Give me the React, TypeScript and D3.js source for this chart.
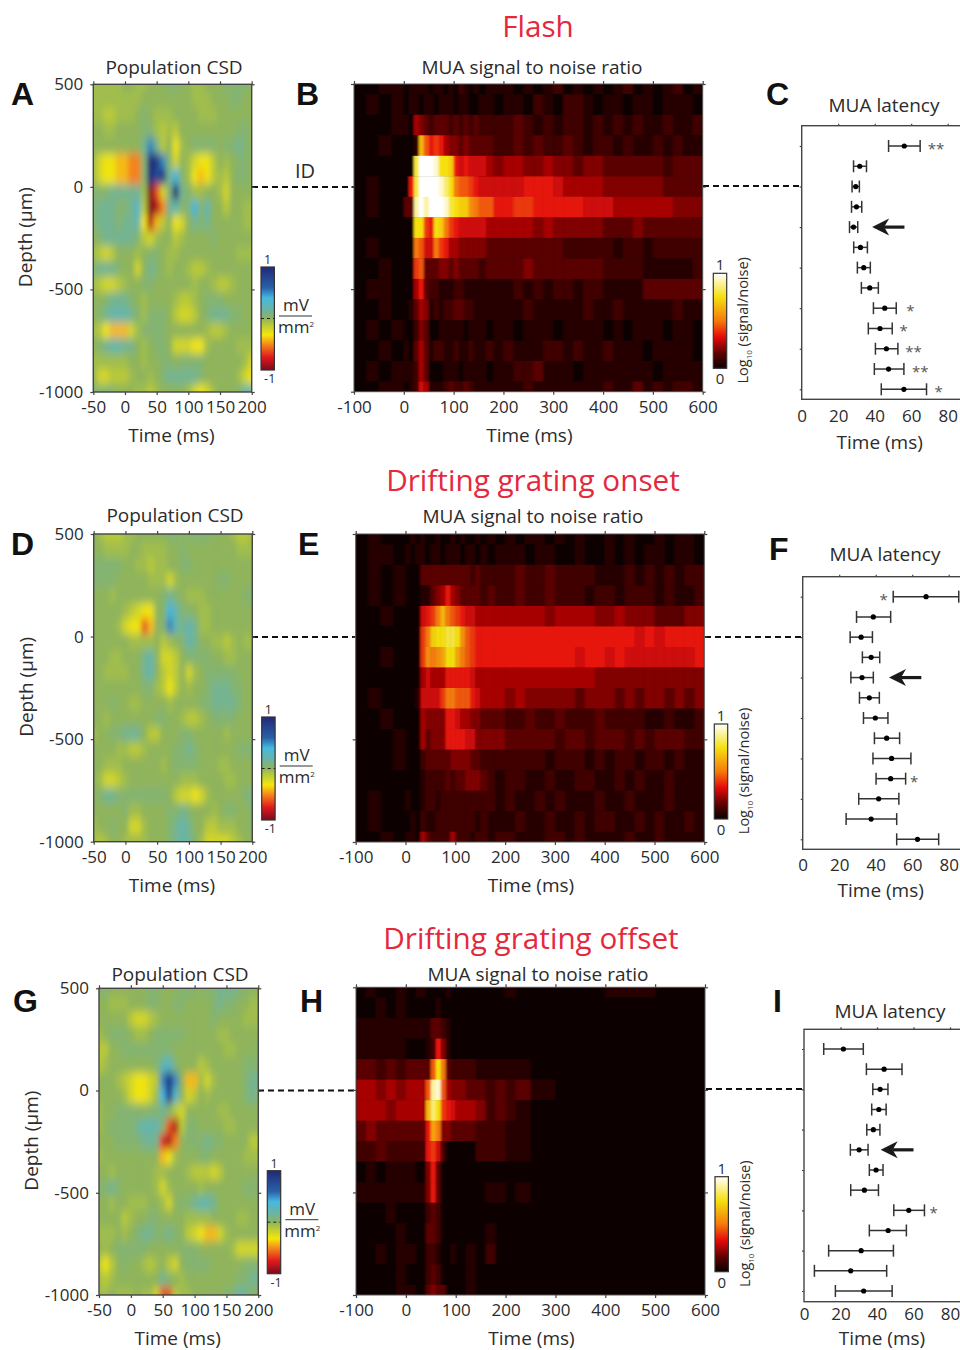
import React, { useEffect, useRef } from 'react';
import * as d3 from 'd3';

const FONT = '"Open Sans", sans-serif';
const INK = '#2b2b2b';

// CSD grids: one row per depth, one value per time bin, tenths of a root scale (see csdFill)
const csdTimes = [-50, -40, -30, -20, -10, 0, 10, 20, 30, 40, 50, 60, 70, 80, 90, 100, 110, 120, 130, 140, 150, 160, 170, 180, 190, 200];
const csdDepths = [500, 425, 350, 275, 200, 125, 50, -25, -100, -175, -250, -325, -400, -475, -550, -625, -700, -775, -850, -925, -1000];

const csdFlash = [
  [-1, -1, -1, -1, -1, 0, 0, -1, -1, 0, 0, 0, 1, 1, 0, 0, -1, -1, 0, 0, 0, 1, 1, 1, 1, 0],
  [-1, -1, -1, -1, -1, -1, -1, -1, 0, 0, 0, 0, 0, 0, 0, 0, -1, -1, -1, 0, 0, 0, 1, 1, 0, 0],
  [-1, -1, -2, -2, -1, -1, -1, 0, 1, 0, -1, -1, -1, 0, 0, 0, 0, -1, -1, -1, 0, 0, 0, 0, 0, 0],
  [0, 0, -1, -1, 0, 0, 0, 0, 1, 1, -1, -2, -1, -2, 0, 0, 0, 0, 0, 0, 0, 0, 0, 1, 1, 0],
  [0, 0, 0, 0, 0, 0, 0, 0, 2, 6, 2, -2, 0, -4, -1, 0, 1, 1, 1, 1, 0, 1, 1, 2, 1, 0],
  [-1, -3, -4, -4, -5, -5, -6, -6, 1, 10, 9, 6, 1, -3, 0, -1, -3, -4, -4, -2, 0, -1, 0, 1, 1, 0],
  [-1, -3, -4, -4, -5, -5, -6, -6, 1, 10, 8, 9, 2, 5, 1, -1, -4, -5, -4, -2, -1, -2, 0, 1, 1, 0],
  [1, 1, 1, 2, 2, 2, 2, 2, -1, -10, -7, -3, 1, 10, 2, 1, -1, -1, 0, 0, -1, -3, 0, 0, 0, 0],
  [1, 2, 2, 2, 1, 1, 2, 4, -2, -10, -9, -6, 2, 3, 1, 1, 5, 1, 3, 0, 0, -2, 0, 0, -1, -1],
  [1, 2, 2, 2, 1, 2, 2, 3, -4, -9, -5, -2, 0, -4, -3, 0, 2, 1, 2, 0, 0, 0, 0, 0, -1, -1],
  [0, 1, 2, 2, 2, 2, 2, 1, -2, -3, -1, 0, 0, -2, -1, 0, 0, 0, 0, 1, 0, 0, 0, 0, 0, 0],
  [-1, -2, -3, -2, 0, 0, 0, -1, 0, 1, 1, 0, -1, -1, 0, 0, 0, 0, 0, 0, 0, 0, 0, -1, -1, -1],
  [1, 2, 2, 2, 1, 0, 0, -3, 0, 2, 1, 0, -1, 0, 0, -1, -2, -2, -1, 0, 0, 0, 0, 0, 0, 0],
  [-1, -2, -3, -3, -2, -1, 0, 0, 1, 1, 0, 0, 0, 0, 0, 0, -1, 0, 0, -1, -2, -2, -1, 0, 0, 0],
  [0, 0, 1, 2, 2, 2, 1, 0, -1, 0, 0, 0, 0, -1, -2, -2, -1, 0, 1, 1, 1, 0, 0, 0, 0, 0],
  [0, 1, 2, 3, 3, 3, 2, 1, -1, 1, 1, 1, 0, -2, -3, -3, -2, 0, 1, 2, 2, 2, 1, 1, 0, 0],
  [-1, -2, -4, -5, -5, -5, -3, -1, 1, 1, 1, 1, 0, 0, 0, 0, 0, 0, -1, -2, -2, -1, 0, 0, 0, 0],
  [0, 1, 2, 3, 3, 2, 2, 0, -1, 0, 1, 1, 0, -3, -3, -3, -4, -4, -1, 0, 0, 0, 0, -1, -1, -1],
  [-1, -1, -1, -1, -1, -1, 0, 0, -1, 0, 0, 1, 1, 0, 1, 1, 1, 1, 0, 0, 0, 0, 0, 0, -1, -3],
  [0, -3, -3, -2, -2, -2, -1, 0, 0, -1, 0, 1, 2, 2, 2, 2, 2, 1, 0, 0, 0, 0, 0, -1, -3, -4],
  [1, 1, 1, 1, 0, 0, 0, -1, -1, -2, -1, 0, 0, 0, 0, -1, -3, -4, -3, -1, 0, 0, 0, 1, 3, 3],
];

const csdOnset = [
  [0, -1, -2, -2, -2, -1, -1, 0, 0, 0, 0, 0, 1, 1, 0, 1, 1, 1, 1, 0, 0, 0, -1, -2, -2, -1],
  [0, 0, -1, -1, -1, -1, 0, 0, -1, -1, -1, -1, 0, 0, 1, 0, 0, 0, 0, 0, 0, 0, 0, -1, -1, -1],
  [1, 1, 1, 1, 1, 0, 0, -1, -1, -2, -1, -1, 0, 0, 1, 1, 0, 0, 0, 0, 0, 0, 0, 0, 0, 0],
  [1, 1, 1, 1, 0, 0, 0, 0, 0, -1, -1, -1, -3, -1, 0, 0, 0, 0, 0, 0, 1, 1, 0, 0, 0, 0],
  [0, 0, 0, -1, 0, 0, 0, 0, 0, 0, 0, 1, 2, 1, 0, -1, -1, -1, 0, 0, 0, 0, 0, 0, 1, 1],
  [0, 0, 0, 0, 0, -1, -2, -3, -4, -4, 0, 1, 5, 3, 1, 1, 0, -1, -1, 0, 0, 0, 0, 0, 0, 0],
  [0, 0, 0, 0, -1, -3, -4, -4, -7, -5, 0, 1, 6, 3, 2, 3, 2, -1, -1, 0, 0, 0, 0, 0, 0, 0],
  [0, 0, 0, 0, 0, 0, -1, -1, -1, -1, 0, -2, -1, 0, 1, 3, 2, 0, 0, -1, -1, -2, -1, 0, -1, -1],
  [0, 0, 0, -1, -1, 0, 0, 0, 2, 3, 0, -3, -3, -2, 0, 1, 1, 1, 1, 0, 0, -1, -1, 0, 0, 0],
  [0, 0, -1, -1, -1, -1, 0, 0, 2, 3, 0, -2, -3, -2, 0, -3, -1, 0, 1, 1, 1, 1, 1, 0, 0, 0],
  [0, 0, 0, 0, 0, 0, 0, 0, 1, 1, -1, -2, -4, -2, 0, -1, 0, 0, 1, 2, 2, 2, 1, 1, 0, 0],
  [0, 0, 0, 1, 0, 0, -1, -1, 0, 0, 0, 0, -1, 0, 0, 0, 0, 1, 1, 2, 2, 2, 2, 1, 0, 0],
  [0, 0, -1, 0, 0, 0, 0, 0, 0, 0, 1, 1, 0, 0, -1, -2, -2, -1, 0, 1, 1, 1, 1, 0, 0, 0],
  [-1, 0, 0, 1, 1, 2, 2, 2, 0, -2, -2, 0, 0, 0, 1, 1, 0, 0, 0, 0, 0, -1, 0, 0, 0, 0],
  [0, 0, 0, 0, -1, -1, -2, -2, -1, 0, 0, 0, 0, 1, 1, 2, 1, 0, 0, 0, 0, 0, 0, 1, 1, 1],
  [0, 0, -1, -1, -1, 0, 0, 0, 0, 0, 0, -1, 0, 1, 1, 1, 1, 0, 0, 0, -1, -1, 0, 0, 0, 0],
  [0, -1, -3, -3, -2, -1, 0, 0, 0, 0, 0, 0, 0, 0, -1, -1, -1, 0, 0, 0, 0, -1, -1, 0, 0, 0],
  [0, 1, 2, 2, 1, 1, 1, 1, 1, 1, 1, 1, 0, -2, -3, -3, -4, -3, -1, 0, 0, 0, 0, 0, 1, 2],
  [0, 0, 0, 0, 0, 1, -1, -1, 0, 0, 0, 0, 1, 1, 2, 1, 0, 0, 0, -1, 0, 1, 1, 0, 0, 1],
  [-1, 0, 0, 1, 0, 0, -3, -3, -1, 0, 0, 0, 1, 2, 3, 2, 0, 0, -2, -2, -1, -1, -1, 0, 0, 1],
  [-1, -2, -1, 0, 0, -1, -1, -1, -1, 0, 0, 0, 1, 2, 3, 2, 1, -1, -3, -3, -3, -3, -2, -1, 0, 0],
];

const csdOffset = [
  [1, 1, 0, 0, 0, 0, 0, 0, 1, 1, 0, 0, 0, 1, 1, 1, 0, 1, 1, 2, 2, 2, 1, 1, 0, 0],
  [0, 0, -1, -1, -1, 0, 0, 0, 1, 1, 0, 0, 1, 1, 0, 0, 0, 0, 1, 2, 1, 1, 0, 0, -1, -1],
  [0, 0, 0, 0, 0, -2, -3, -3, -2, -1, 0, 0, 0, 0, 0, 0, 0, 0, 1, 0, 0, 0, 0, -1, -1, -1],
  [-1, 0, 1, 1, 1, 0, -1, -1, 0, 1, 1, 1, 1, 1, 0, 0, 0, 0, 0, -1, -1, 0, 0, 0, 0, 0],
  [-2, -2, 0, 0, 1, 1, 1, 1, 1, 1, 1, 1, 0, 0, 0, 0, 0, 0, 0, 0, -1, -1, 0, 0, 0, 1],
  [-2, -1, 0, 0, 0, 0, 0, 0, 0, 1, 3, 4, 1, 0, 0, 0, -2, -1, 0, 0, 0, 0, 0, 1, 1, 1],
  [0, 0, 0, -1, -2, -3, -4, -4, -3, -2, 6, 10, 6, 0, -5, -5, -1, -3, -1, 0, 0, 0, 0, 1, 2, 2],
  [0, 0, 0, 0, -1, -3, -4, -4, -3, -1, 5, 9, 4, 0, -3, -2, 0, -1, 0, 0, 0, 0, 0, 1, 2, 1],
  [-1, 0, 0, 1, 1, 1, 1, 0, 1, 1, 2, 1, -2, -3, 0, 0, 0, 0, 0, -1, -1, 0, 0, 0, 0, 0],
  [-1, 0, 1, 1, 1, 1, 2, 3, 3, 3, 1, -7, -9, -2, 1, 1, 0, 0, 0, 0, -1, -1, 0, 0, 0, 0],
  [0, 0, 0, 1, 1, 1, 1, 2, 2, 2, -8, -9, -6, 0, 1, 1, 1, 2, 1, 1, 0, 0, 0, 0, -2, -2],
  [-1, 0, 0, 0, 0, 0, 0, 0, 0, 0, -5, -4, -1, 0, 0, 0, 1, 1, 0, 0, 0, 0, 0, -1, -1, -1],
  [0, 0, -1, 0, 0, 0, 0, 0, 0, -1, -1, 0, 0, 0, -1, -2, -2, -2, -3, -2, 0, 0, 0, 0, 0, 0],
  [1, 1, 2, 1, 0, 0, 0, 0, 0, -1, -3, -1, 0, 0, 0, 0, -1, 0, 0, 0, 0, 0, 0, 1, 1, 1],
  [0, 0, -1, 0, 0, -1, -1, -1, 0, 0, -1, -3, 0, 1, 1, 2, 3, 3, 2, 0, 0, 0, 0, 0, 0, 0],
  [0, 0, 0, 0, -2, -1, 0, 0, 1, 1, 0, 0, 0, 0, -1, -1, -1, -1, 0, 0, 0, 0, -1, -1, 0, 0],
  [-1, -1, -1, 0, -1, 0, 1, 2, 2, 1, 1, 2, 1, 0, -2, -3, -4, -5, -5, -3, -1, 0, 0, 0, 0, 0],
  [0, -1, 0, 1, 1, 1, 1, 1, 0, 0, 0, 0, 0, 1, 1, 1, 0, 0, 0, 0, 0, -1, -3, -3, -3, -3],
  [-2, -4, -2, 0, 1, 0, 0, -1, -2, -1, 0, -2, -3, 0, 1, 1, 1, 1, 0, 0, 0, 0, 0, 1, 1, 1],
  [-1, -2, -1, 0, 0, 0, 0, 0, 0, 0, 2, 1, 0, -1, 0, 0, 0, 0, 0, 0, 0, 0, 1, 1, 2, 2],
  [-1, -1, 0, -1, -1, -1, 0, -1, -1, -3, -7, -7, -2, -1, -1, 0, 0, 0, 0, 0, 1, 1, 3, 2, 1, 0],
];

// MUA grids: one row per 100 um, in twentieths of the log10 signal/noise range
const muaDepths = [500, 400, 300, 200, 100, 0, -100, -200, -300, -400, -500, -600, -700, -800, -900, -1000];
const muaEdges = [-100, -75, -50, -25, 0, 10, 20, 30, 40, 50, 60, 70, 80, 90, 100, 110, 120, 130, 140, 150, 165, 180, 200, 220, 240, 260, 280, 300, 320, 340, 360, 380, 400, 420, 440, 460, 480, 500, 520, 540, 560, 580, 600];
const muaOffsetEdges = [-100, -80, -60, -40, -20, 0, 20, 40, 50, 60, 70, 80, 90, 100, 120, 140, 160, 180, 200, 220, 250, 300, 350, 400, 450, 500, 550, 600];

const muaFlash = [
  [0, 0, 1, 1, 0, 1, 1, 1, 1, 0, 1, 1, 0, 1, 0, 2, 1, 0, 1, 0, 1, 1, 1, 0, 1, 0, 1, 2, 0, 1, 0, 1, 0, 1, 2, 0, 1, 0, 1, 2, 0, 1],
  [0, 1, 0, 1, 0, 1, 1, 0, 1, 1, 0, 1, 1, 1, 0, 1, 1, 0, 0, 1, 1, 0, 1, 1, 0, 2, 1, 0, 2, 2, 1, 0, 1, 1, 0, 1, 1, 0, 1, 1, 1, 0],
  [0, 0, 0, 1, 1, 0, 5, 4, 3, 2, 3, 3, 3, 2, 3, 2, 3, 2, 3, 2, 2, 2, 2, 3, 2, 1, 2, 1, 2, 2, 1, 2, 1, 2, 1, 2, 1, 1, 2, 1, 1, 2],
  [0, 0, 1, 0, 0, 0, 1, 13, 9, 7, 8, 7, 5, 4, 4, 3, 4, 3, 3, 3, 3, 2, 2, 3, 2, 3, 2, 2, 3, 2, 1, 2, 2, 1, 2, 1, 1, 2, 1, 2, 1, 1],
  [0, 0, 0, 0, 0, 0, 16, 20, 20, 20, 19, 15, 15, 14, 7, 6, 7, 6, 6, 6, 5, 4, 5, 5, 4, 4, 5, 4, 4, 3, 4, 4, 3, 3, 3, 3, 3, 3, 2, 3, 3, 3],
  [0, 1, 0, 0, 0, 7, 16, 20, 20, 20, 20, 19, 17, 15, 10, 9, 9, 8, 7, 6, 6, 6, 6, 6, 7, 7, 7, 6, 5, 5, 5, 5, 4, 4, 4, 4, 4, 4, 3, 3, 3, 3],
  [0, 1, 0, 0, 3, 3, 18, 20, 18, 20, 20, 20, 19, 16, 15, 14, 14, 11, 10, 9, 9, 7, 7, 8, 8, 7, 7, 7, 7, 7, 6, 6, 6, 5, 5, 5, 5, 5, 5, 4, 4, 4],
  [0, 0, 0, 0, 0, 0, 15, 15, 8, 7, 15, 14, 10, 8, 7, 6, 6, 6, 6, 6, 5, 5, 5, 5, 5, 4, 5, 4, 4, 4, 4, 4, 3, 3, 3, 4, 3, 3, 3, 3, 3, 3],
  [0, 1, 0, 0, 0, 0, 10, 9, 6, 6, 10, 8, 7, 5, 5, 4, 4, 4, 4, 4, 3, 3, 3, 3, 3, 3, 3, 3, 2, 2, 2, 2, 2, 1, 2, 2, 1, 2, 2, 2, 2, 2],
  [0, 0, 1, 0, 0, 0, 8, 9, 3, 3, 3, 4, 4, 3, 4, 3, 3, 3, 3, 2, 3, 3, 3, 3, 4, 3, 3, 3, 3, 3, 3, 3, 2, 2, 2, 2, 1, 1, 1, 1, 1, 2],
  [0, 1, 1, 0, 0, 0, 5, 7, 3, 2, 2, 1, 1, 1, 2, 2, 1, 1, 1, 1, 1, 1, 1, 2, 1, 2, 1, 2, 2, 1, 2, 2, 1, 1, 1, 1, 3, 3, 3, 3, 3, 3],
  [0, 0, 1, 0, 0, 1, 3, 5, 4, 1, 2, 1, 2, 2, 3, 3, 2, 2, 1, 1, 1, 1, 1, 1, 2, 1, 1, 1, 1, 1, 2, 1, 1, 2, 1, 1, 1, 1, 1, 2, 1, 1],
  [0, 1, 0, 1, 0, 0, 2, 4, 3, 0, 0, 1, 1, 1, 1, 1, 0, 1, 1, 1, 0, 1, 1, 0, 1, 1, 1, 0, 1, 1, 1, 1, 0, 1, 0, 1, 1, 1, 0, 1, 1, 0],
  [0, 0, 1, 0, 1, 0, 3, 5, 3, 1, 2, 2, 1, 1, 2, 1, 1, 2, 1, 1, 2, 1, 2, 1, 1, 1, 2, 2, 1, 2, 1, 1, 2, 1, 1, 1, 0, 1, 1, 1, 1, 0],
  [0, 1, 0, 1, 1, 1, 2, 5, 3, 0, 0, 0, 1, 1, 1, 0, 1, 1, 1, 1, 0, 1, 1, 2, 2, 3, 1, 1, 1, 0, 1, 1, 1, 1, 1, 1, 1, 0, 1, 1, 1, 1],
  [0, 0, 1, 1, 0, 1, 2, 6, 5, 1, 1, 1, 2, 3, 2, 2, 3, 2, 1, 1, 1, 1, 1, 1, 2, 1, 1, 1, 1, 1, 1, 1, 2, 1, 1, 3, 1, 2, 1, 2, 2, 1],
];

const muaOnset = [
  [0, 1, 0, 0, 0, 1, 0, 1, 0, 0, 1, 0, 0, 1, 0, 1, 0, 0, 1, 0, 1, 0, 1, 0, 1, 1, 0, 1, 0, 1, 0, 0, 1, 0, 1, 0, 0, 1, 0, 1, 1, 0],
  [0, 1, 1, 0, 1, 0, 1, 1, 0, 1, 1, 0, 1, 1, 1, 0, 1, 1, 0, 1, 0, 1, 1, 1, 0, 1, 1, 0, 0, 1, 0, 0, 1, 0, 1, 0, 1, 1, 0, 1, 1, 0],
  [0, 1, 0, 1, 0, 0, 0, 3, 3, 3, 3, 3, 3, 3, 3, 3, 3, 2, 3, 2, 2, 2, 2, 3, 2, 2, 3, 2, 2, 2, 2, 1, 1, 1, 2, 1, 2, 1, 2, 1, 2, 2],
  [0, 1, 0, 1, 0, 0, 0, 1, 1, 3, 4, 5, 7, 5, 4, 3, 3, 3, 3, 2, 3, 2, 2, 3, 2, 2, 3, 2, 2, 2, 1, 2, 2, 1, 2, 2, 2, 1, 2, 1, 1, 2],
  [0, 0, 1, 0, 0, 0, 0, 6, 7, 8, 10, 13, 10, 9, 8, 7, 6, 6, 5, 5, 5, 5, 5, 5, 5, 5, 4, 5, 5, 5, 5, 4, 4, 5, 4, 4, 4, 3, 3, 3, 4, 4],
  [0, 0, 0, 0, 0, 0, 0, 8, 10, 14, 15, 15, 16, 16, 15, 11, 9, 8, 7, 7, 7, 7, 7, 7, 7, 7, 7, 7, 7, 7, 7, 7, 7, 7, 7, 6, 7, 6, 7, 7, 7, 7],
  [0, 0, 1, 0, 0, 0, 0, 8, 11, 10, 11, 12, 15, 15, 12, 10, 9, 8, 7, 7, 7, 7, 7, 7, 7, 7, 7, 7, 7, 6, 7, 7, 6, 7, 6, 6, 6, 6, 6, 6, 6, 7],
  [0, 0, 0, 0, 0, 0, 0, 5, 6, 5, 5, 5, 7, 7, 7, 7, 7, 6, 5, 5, 5, 5, 5, 5, 5, 5, 5, 5, 5, 5, 5, 4, 4, 4, 4, 4, 4, 4, 4, 4, 4, 4],
  [0, 1, 0, 0, 0, 0, 1, 6, 6, 6, 6, 8, 10, 10, 9, 9, 9, 7, 6, 5, 5, 5, 4, 5, 4, 4, 4, 4, 4, 3, 4, 4, 4, 3, 4, 3, 4, 4, 3, 4, 3, 4],
  [0, 0, 1, 0, 0, 0, 0, 5, 4, 4, 4, 4, 7, 7, 6, 5, 5, 4, 4, 3, 3, 3, 2, 2, 3, 2, 2, 3, 2, 2, 2, 3, 2, 2, 2, 2, 1, 1, 2, 1, 1, 2],
  [0, 0, 0, 1, 0, 0, 0, 5, 3, 4, 4, 4, 7, 7, 7, 7, 6, 6, 4, 4, 4, 4, 3, 3, 3, 3, 3, 2, 3, 3, 2, 3, 3, 3, 2, 3, 2, 3, 3, 3, 2, 2],
  [0, 0, 0, 1, 0, 0, 0, 2, 3, 3, 3, 3, 3, 4, 4, 4, 4, 3, 3, 2, 2, 2, 2, 2, 2, 2, 1, 2, 2, 2, 1, 2, 1, 2, 2, 1, 2, 2, 1, 2, 1, 1],
  [0, 0, 0, 0, 0, 0, 0, 1, 2, 2, 2, 2, 3, 2, 3, 3, 4, 4, 4, 3, 2, 1, 2, 2, 1, 1, 2, 1, 1, 2, 2, 1, 1, 2, 1, 2, 1, 1, 2, 1, 1, 1],
  [0, 1, 0, 0, 1, 0, 0, 1, 2, 2, 1, 2, 2, 2, 2, 2, 2, 2, 2, 2, 2, 1, 2, 1, 1, 2, 1, 2, 1, 1, 1, 2, 1, 1, 2, 1, 1, 1, 2, 1, 1, 1],
  [0, 1, 0, 0, 0, 1, 0, 2, 1, 1, 2, 2, 2, 2, 2, 2, 2, 2, 1, 2, 1, 1, 1, 2, 1, 1, 2, 1, 1, 2, 1, 2, 2, 1, 1, 2, 1, 2, 1, 1, 2, 1],
  [0, 0, 1, 0, 1, 1, 0, 5, 3, 2, 2, 2, 2, 5, 2, 2, 2, 1, 2, 2, 1, 2, 2, 1, 1, 1, 2, 2, 1, 2, 1, 1, 1, 1, 2, 1, 1, 2, 1, 1, 1, 1],
];

const muaOffset = [
  [0, 1, 0, 0, 1, 0, 1, 0, 0, 0, 0, 1, 0, 0, 0, 0, 0, 0, 1, 0, 0, 0, 0, 1, 1, 0, 0],
  [0, 0, 1, 0, 1, 0, 0, 0, 0, 1, 0, 0, 0, 0, 0, 0, 0, 0, 0, 0, 0, 0, 0, 0, 0, 0, 0],
  [1, 1, 1, 1, 1, 1, 1, 1, 3, 3, 2, 1, 0, 0, 0, 0, 0, 0, 0, 0, 0, 0, 0, 0, 0, 0, 0],
  [1, 1, 1, 1, 1, 0, 0, 1, 2, 7, 4, 1, 0, 0, 0, 0, 0, 0, 0, 0, 0, 0, 0, 0, 0, 0, 0],
  [3, 3, 2, 3, 2, 3, 3, 3, 9, 15, 10, 3, 2, 2, 2, 1, 1, 1, 1, 1, 0, 0, 0, 0, 0, 0, 0],
  [5, 5, 4, 5, 4, 5, 5, 9, 18, 19, 9, 5, 4, 4, 3, 3, 2, 3, 2, 3, 1, 0, 0, 0, 0, 0, 0],
  [5, 5, 5, 4, 5, 5, 5, 13, 17, 15, 8, 7, 6, 5, 5, 4, 2, 3, 2, 1, 0, 0, 0, 0, 0, 0, 0],
  [3, 4, 3, 3, 3, 3, 3, 7, 12, 10, 4, 4, 3, 3, 3, 2, 2, 2, 1, 1, 0, 0, 0, 0, 0, 0, 0],
  [2, 2, 3, 2, 2, 2, 2, 7, 8, 6, 2, 0, 0, 0, 0, 2, 2, 2, 1, 1, 0, 0, 0, 0, 0, 0, 0],
  [0, 1, 0, 1, 1, 1, 0, 4, 7, 3, 0, 0, 0, 0, 0, 0, 0, 0, 0, 0, 0, 0, 0, 0, 0, 0, 0],
  [1, 1, 1, 1, 1, 1, 1, 4, 7, 3, 0, 0, 0, 0, 0, 0, 1, 1, 0, 1, 0, 0, 0, 0, 0, 0, 0],
  [0, 0, 0, 1, 0, 0, 0, 2, 3, 2, 0, 0, 0, 0, 0, 0, 0, 0, 0, 0, 0, 0, 0, 0, 0, 0, 0],
  [0, 0, 0, 0, 1, 0, 0, 3, 3, 2, 0, 0, 0, 0, 0, 0, 1, 0, 0, 0, 0, 0, 0, 0, 0, 0, 0],
  [0, 0, 1, 0, 1, 1, 0, 2, 2, 1, 0, 0, 1, 0, 1, 0, 2, 0, 0, 0, 0, 0, 0, 0, 0, 0, 0],
  [0, 0, 0, 0, 1, 0, 0, 2, 3, 2, 0, 0, 0, 0, 1, 0, 0, 0, 0, 0, 0, 0, 0, 0, 0, 0, 0],
  [0, 0, 0, 0, 1, 1, 0, 3, 4, 3, 3, 0, 0, 0, 1, 0, 0, 0, 0, 0, 0, 0, 0, 0, 0, 0, 0],
];

// MUA latency per row, ms: [low, mean, high]
const latencyFlash = [[47.6, 56.2, 64.9], [28.4, 31.8, 35.5], [27.6, 29.6, 31.6], [27.3, 30, 32.9], [26.2, 28.4, 30.7], [28.5, 32.2, 36], [30.5, 34, 37.6], [32.7, 37.3, 42], [39.3, 45.5, 51.8], [36.5, 42.9, 49.6], [40.4, 46.4, 52.7], [39.8, 47.6, 56], [43.6, 56, 68.4]];
const latencyOnset = [[49.6, 67.6, 85.5], [29.5, 38.7, 48.2], [26, 32, 38.2], [32.7, 37.5, 42.2], [26.4, 32.5, 38.7], [31.1, 36.5, 42], [33.3, 39.8, 46.7], [39.3, 46, 53.1], [38.5, 48.7, 59.3], [40.2, 48.2, 56.4], [30.7, 41.6, 52.7], [23.8, 37.5, 51.5], [51.5, 62.9, 74.5]];
const latencyOffset = [[10.8, 21.6, 32.5], [34.2, 43.9, 53.7], [37.7, 41.7, 46], [37.1, 41, 45], [34.4, 38, 41.6], [25.4, 30.2, 35.1], [35.8, 39.5, 43.3], [25.6, 33.1, 40.8], [49.2, 57.4, 66], [35.8, 46.1, 56.1], [13.5, 31.3, 49], [5.7, 25.6, 45.3], [17.2, 32.7, 48.3]];

// [row, ms, label]
const starsFlash = [[1, 73.6, '**'], [9, 59.5, '*'], [10, 55.8, '*'], [11, 61.3, '**'], [12, 65, '**'], [13, 75, '*']];
const starsOnset = [[1, 44.4, '*'], [10, 61.1, '*']];
const starsOffset = [[9, 71, '*']];

const csdTicksX = [-50, 0, 50, 100, 150, 200];
const depthTicks = [500, 0, -500, -1000];
const muaTicksX = [-100, 0, 100, 200, 300, 400, 500, 600];
const latencyTicksX = [0, 20, 40, 60, 80];
const latencyTicksY = [1, 3, 5, 7, 9, 11, 13];

const csdStops = [-1, -0.75, -0.5, -0.32, -0.12, 0, 0.15, 0.4, 0.6, 1];
const csdColors = ['#7a0a1e', '#e01a1c', '#f58a1a', '#f5e60c', '#b8c93a', '#8fb45c', '#6fb49c', '#46b8e0', '#2a5fa8', '#1f2a78'];
const muaStops = [0, 0.15, 0.33, 0.5, 0.75, 1];
const muaColors = ['#0a0000', '#5a0000', '#e50a0a', '#f57a0a', '#f5e010', '#ffffff'];

const csdColor = d3.scaleLinear<string>().domain(csdStops).range(csdColors).clamp(true);
const muaColor = d3.scaleLinear<string>().domain(muaStops).range(muaColors).clamp(true);
const csdFill = (v: number) => csdColor(Math.sign(v) * Math.pow(Math.abs(v) / 10, 1.3));

const Axis = ({ axis, x = 0, y = 0, size = 17 }: any) => {
  const ref = useRef<SVGGElement>(null);
  useEffect(() => {
    const g = d3.select(ref.current);
    g.call(axis);
    g.select('.domain').remove();
    g.attr('font-family', FONT).attr('font-size', size);
    g.selectAll('line').attr('stroke', '#444').attr('stroke-width', 1.2);
    g.selectAll('text').attr('fill', INK);
  }, []);
  return <g ref={ref} transform={`translate(${x},${y})`} />;
};

const Label = ({ x, y, size = 19, rotate = false, anchor = 'middle', weight = 400, fill = INK, family = FONT, children }: any) => (
  <text x={x} y={y} fontSize={size} textAnchor={anchor} fontWeight={weight} fill={fill} fontFamily={family}
    transform={rotate ? `rotate(-90 ${x} ${y})` : undefined}>{children}</text>
);

const PanelLetter = ({ x, y, children }: any) => (
  <Label x={x} y={y} size={32} anchor="start" weight={700} fill="#111" family='"Liberation Sans", sans-serif'>{children}</Label>
);

const Colorbar = ({ id, x, y, w, h, stops, colors, lo, hi, mid }: any) => {
  const t = d3.scaleLinear().domain([stops[0], stops[stops.length - 1]]).range([100, 0]);
  return (
    <g>
      <defs>
        <linearGradient id={id} x1="0" x2="0" y1="0" y2="1">
          {stops.map((s: number, i: number) => <stop key={i} offset={`${t(s)}%`} stopColor={colors[i]} />).reverse()}
        </linearGradient>
      </defs>
      <rect x={x} y={y} width={w} height={h} fill={`url(#${id})`} stroke="#333" strokeWidth={1.2} />
      {mid && <line x1={x} x2={x + w} y1={y + h / 2} y2={y + h / 2} stroke="#222" strokeWidth={1} strokeDasharray="3 3" />}
      <Label x={x + w / 2} y={y - 3} size={mid ? 12.5 : 15}>{hi}</Label>
      <Label x={x + w / 2 + (mid ? 2 : 0)} y={y + h + (mid ? 13 : 16)} size={mid ? 12.5 : 15}>{lo}</Label>
    </g>
  );
};

const CsdPanel = ({ id, x0, x1, y0, y1, grid, titleX, titleY, barX, barY }: any) => {
  const x = d3.scaleLinear().domain([-50, 200]).range([x0, x1]);
  const y = d3.scaleLinear().domain([500, -1000]).range([y0, y1]);
  const last = csdTimes.length - 1;
  const lastRow = csdDepths.length - 1;
  return (
    <g>
      <defs>
        <clipPath id={`clip-${id}`}><rect x={x0} y={y0} width={x1 - x0} height={y1 - y0} /></clipPath>
        <filter id={`blur-${id}`} x="-10%" y="-10%" width="120%" height="120%">
          <feGaussianBlur stdDeviation="2.8 4.6" />
        </filter>
      </defs>
      <g clipPath={`url(#clip-${id})`}>
        <rect x={x0} y={y0} width={x1 - x0} height={y1 - y0} fill="#8fb45c" />
        <g filter={`url(#blur-${id})`}>
          {grid.map((row: number[], r: number) => row.map((v, c) => {
            const left = x(csdTimes[c] - 5) - (c === 0 ? 20 : 0);
            const right = x(csdTimes[c] + 5) + (c === last ? 20 : 0.5);
            const top = y(csdDepths[r] + 37.5) - (r === 0 ? 20 : 0);
            const bottom = y(csdDepths[r] - 37.5) + (r === lastRow ? 20 : 0.5);
            return <rect key={`${r}-${c}`} x={left} y={top} width={right - left} height={bottom - top} fill={csdFill(v)} />;
          }))}
        </g>
      </g>
      <rect x={x0} y={y0} width={x1 - x0} height={y1 - y0} fill="none" stroke="#444" strokeWidth={1.4} />
      <Axis y={y1} axis={d3.axisBottom(x).tickValues(csdTicksX).tickSize(3).tickPadding(6).tickFormat((d: any) => String(d))} />
      <Axis y={y0} axis={d3.axisTop(x).tickValues(csdTicksX).tickSize(3).tickFormat(() => '')} />
      <Axis x={x0} axis={d3.axisLeft(y).tickValues(depthTicks).tickSize(3).tickPadding(7).tickFormat((d: any) => String(d))} />
      <Axis x={x1} axis={d3.axisRight(y).tickValues(depthTicks).tickSize(3).tickFormat(() => '')} />
      <Label x={titleX} y={titleY}>Population CSD</Label>
      <Label x={(x0 + x1) / 2 - 1} y={y1 + 50}>Time (ms)</Label>
      <Label x={x0 - 61} y={(y0 + y1) / 2 - 1} size={19} rotate>Depth (µm)</Label>
      <Colorbar id={`cb-${id}`} x={barX} y={barY} w={13.4} h={103} stops={csdStops} colors={csdColors} lo="-1" hi="1" mid />
      <Label x={barX + 35} y={barY + 44} size={17}>mV</Label>
      <line x1={barX + 18} x2={barX + 51} y1={barY + 49} y2={barY + 49} stroke="#333" strokeWidth={1} />
      <Label x={barX + 35} y={barY + 66} size={17}>mm<tspan fontSize={8} dy={-6}>2</tspan></Label>
    </g>
  );
};

const MuaPanel = ({ id, x0, x1, y0, y1, grid, edges, titleX, titleY, barX, barY }: any) => {
  const x = d3.scaleLinear().domain([-100, 600]).range([x0, x1]);
  const y = d3.scaleLinear().domain([500, -1000]).range([y0, y1]);
  return (
    <g>
      <defs>
        <clipPath id={`clip-${id}`}><rect x={x0} y={y0} width={x1 - x0} height={y1 - y0} /></clipPath>
        <filter id={`soft-${id}`} x="-2%" y="-2%" width="104%" height="104%">
          <feGaussianBlur stdDeviation="0.9 0.5" />
        </filter>
      </defs>
      <g clipPath={`url(#clip-${id})`}>
        <rect x={x0} y={y0} width={x1 - x0} height={y1 - y0} fill="#0a0000" />
        <g filter={`url(#soft-${id})`}>
          {grid.map((row: number[], r: number) => row.map((v, c) => (
            <rect key={`${r}-${c}`} x={x(edges[c])} width={x(edges[c + 1]) - x(edges[c]) + 0.4}
              y={y(muaDepths[r] + 50)} height={y(muaDepths[r] - 50) - y(muaDepths[r] + 50) + 0.4}
              fill={muaColor(v / 20)} />
          )))}
        </g>
      </g>
      <rect x={x0} y={y0} width={x1 - x0} height={y1 - y0} fill="none" stroke="#555" strokeWidth={1} />
      <Axis y={y1} axis={d3.axisBottom(x).tickValues(muaTicksX).tickSize(3).tickPadding(6).tickFormat((d: any) => String(d))} />
      <Axis y={y0} axis={d3.axisTop(x).tickValues(muaTicksX).tickSize(3).tickFormat(() => '')} />
      <Axis x={x0} axis={d3.axisLeft(y).tickValues(depthTicks).tickSize(3).tickFormat(() => '')} />
      <Axis x={x1} axis={d3.axisRight(y).tickValues(depthTicks).tickSize(3).tickFormat(() => '')} />
      <Label x={titleX} y={titleY}>MUA signal to noise ratio</Label>
      <Label x={(x0 + x1) / 2 + 1} y={y1 + 50}>Time (ms)</Label>
      <Colorbar id={`cb-${id}`} x={barX} y={barY} w={13.4} h={95} stops={muaStops} colors={muaColors} lo="0" hi="1" />
      <Label x={barX + 35} y={barY + 47} size={14.5} rotate>Log<tspan fontSize={8} dy={4}>10</tspan><tspan dy={-4}> (signal/noise)</tspan></Label>
    </g>
  );
};

const LatencyPanel = ({ x0, y0, y1, rowFirst, rowLast, rows, stars, arrowRow, arrowTip, arrowTail, titleX, titleY, labelY, tickGap }: any) => {
  const x = d3.scaleLinear().domain([0, 80]).range([x0, x0 + 146]);
  const y = d3.scaleLinear().domain([1, 13]).range([rowFirst, rowLast]);
  const tip = x(arrowTip);
  const tail = x(arrowTail);
  const ay = y(arrowRow);
  return (
    <g>
      <rect x={x0} y={y0} width={x(100) - x0} height={y1 - y0} fill="#fff" stroke="#444" strokeWidth={1.4} />
      <Axis y={y1} axis={d3.axisBottom(x).tickValues(latencyTicksX).tickSize(0).tickPadding(tickGap)} />
      <Axis y={y0} axis={d3.axisTop(x).tickValues(latencyTicksX.slice(1)).tickSize(2).tickFormat(() => '')} />
      <Axis x={x0} axis={d3.axisLeft(y).tickValues(latencyTicksY).tickSize(2).tickFormat(() => '')} />
      {rows.map((d: number[], i: number) => {
        const cy = y(i + 1);
        return (
          <g key={i} stroke="#333" strokeWidth={1.5}>
            <line x1={x(d[0])} x2={x(d[2])} y1={cy} y2={cy} />
            <line x1={x(d[0])} x2={x(d[0])} y1={cy - 6} y2={cy + 6} />
            <line x1={x(d[2])} x2={x(d[2])} y1={cy - 6} y2={cy + 6} />
            <circle cx={x(d[1])} cy={cy} r={2.6} fill="#000" stroke="none" />
          </g>
        );
      })}
      {stars.map((s: any, i: number) => (
        <text key={i} x={x(s[1])} y={y(s[0]) + 8} fontSize={15} textAnchor="middle" fill="#555" fontFamily={FONT}>{s[2]}</text>
      ))}
      <line x1={tip + 12} x2={tail} y1={ay} y2={ay} stroke="#1a1a1a" strokeWidth={3.2} />
      <path d={`M${tip},${ay} L${tip + 17},${ay - 8.5} L${tip + 12},${ay} L${tip + 17},${ay + 8.5} Z`} fill="#1a1a1a" />
      <Label x={titleX} y={titleY}>MUA latency</Label>
      <Label x={x0 + 78} y={labelY}>Time (ms)</Label>
    </g>
  );
};

const Dashed = ({ x1, x2, y }: any) => (
  <line x1={x1} x2={x2} y1={y} y2={y} stroke="#111" strokeWidth={2} strokeDasharray="6 4" />
);

const App = () => {
  return (
    <svg width={960} height={1350} style={{ position: 'absolute', left: 0, top: 0, display: 'block', background: '#fff' }}>
      <Label x={538} y={37} size={29.7} fill="#e5283c">Flash</Label>
      <Label x={533} y={491} size={29.7} fill="#e5283c">Drifting grating onset</Label>
      <Label x={531} y={949} size={29.7} fill="#e5283c">Drifting grating offset</Label>

      <PanelLetter x={11} y={105}>A</PanelLetter>
      <PanelLetter x={296} y={105}>B</PanelLetter>
      <PanelLetter x={766} y={105}>C</PanelLetter>
      <PanelLetter x={11} y={555}>D</PanelLetter>
      <PanelLetter x={298} y={555}>E</PanelLetter>
      <PanelLetter x={769} y={560}>F</PanelLetter>
      <PanelLetter x={13} y={1012}>G</PanelLetter>
      <PanelLetter x={300} y={1012}>H</PanelLetter>
      <PanelLetter x={773} y={1012}>I</PanelLetter>

      <Dashed x1={252} x2={354} y={187} />
      <Dashed x1={703} x2={802} y={186} />
      <Dashed x1={252} x2={355} y={637} />
      <Dashed x1={705} x2={803} y={637} />
      <Dashed x1={258} x2={356} y={1090.5} />
      <Dashed x1={706} x2={804} y={1089} />
      <Label x={305} y={178} size={20}>ID</Label>

      <CsdPanel id="a" x0={93.3} x1={251.7} y0={84.3} y1={392} grid={csdFlash} titleX={174} titleY={74} barX={261} barY={267} />
      <CsdPanel id="d" x0={93.7} x1={252.3} y0={534} y1={841.7} grid={csdOnset} titleX={175} titleY={522} barX={261.7} barY={717} />
      <CsdPanel id="g" x0={99} x1={258.3} y0={988.3} y1={1295} grid={csdOffset} titleX={180} titleY={981} barX={267.3} barY={1170.7} />

      <MuaPanel id="b" x0={354} x1={702.7} y0={84} y1={391.7} grid={muaFlash} edges={muaEdges} titleX={532} titleY={74} barX={713.3} barY={273.3} />
      <MuaPanel id="e" x0={355.7} x1={704.3} y0={534} y1={842} grid={muaOnset} edges={muaEdges} titleX={533} titleY={523} barX={714.3} barY={724} />
      <MuaPanel id="h" x0={356} x1={705} y0={987.3} y1={1295} grid={muaOffset} edges={muaOffsetEdges} titleX={538} titleY={981} barX={715} barY={1176.7} />

      <LatencyPanel x0={801.7} y0={125.7} y1={399.3} rowFirst={146} rowLast={389.3} rows={latencyFlash} stars={starsFlash} arrowRow={5} arrowTip={38.6} arrowTail={56.3} titleX={884} titleY={112} labelY={449} tickGap={11} />
      <LatencyPanel x0={802.7} y0={576.7} y1={849.3} rowFirst={596.7} rowLast={839.3} rows={latencyOnset} stars={starsOnset} arrowRow={5} arrowTip={47.3} arrowTail={65} titleX={885} titleY={561} labelY={897} tickGap={10} />
      <LatencyPanel x0={804} y0={1029.3} y1={1301.7} rowFirst={1049} rowLast={1291} rows={latencyOffset} stars={starsOffset} arrowRow={6} arrowTip={42} arrowTail={60} titleX={890} titleY={1018} labelY={1345} tickGap={6.5} />
    </svg>
  );
};

export default App;
